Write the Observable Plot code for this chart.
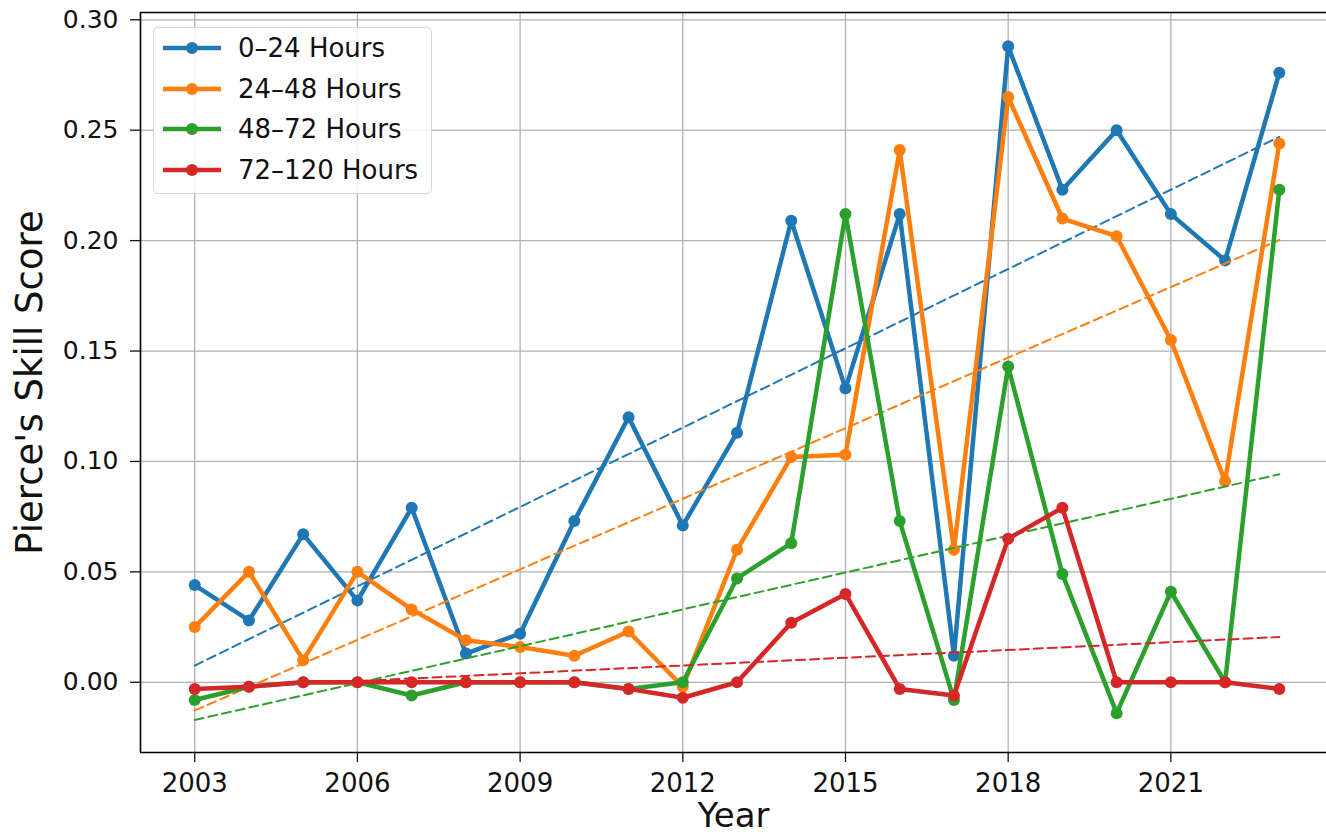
<!DOCTYPE html>
<html>
<head>
<meta charset="utf-8">
<script src="https://cdn.jsdelivr.net/npm/d3@7"></script>
<script src="https://cdn.jsdelivr.net/npm/@observablehq/plot@0.6"></script>
<style>
  html, body { margin: 0; padding: 0; background: white; }
  #wrap { position: relative; width: 1326px; height: 839px; overflow: hidden; font-family: "DejaVu Sans", sans-serif; }
  #legend { position: absolute; left: 153px; top: 27px; width: 279px; height: 167px; box-sizing: border-box;
            border: 1.3px solid #d6d6d6; border-radius: 5px; background: rgba(255,255,255,0.85); }
  .row { position: absolute; left: 0; height: 40px; display: flex; align-items: center; }
  .row span { font-size: 26px; color: #111; margin-left: 16px; white-space: nowrap; }
</style>
</head>
<body>
<div id="wrap"><div id="chart"></div><div id="legend"></div></div>
<script>
const years = [2003,2004,2005,2006,2007,2008,2009,2010,2011,2012,2013,2014,2015,2016,2017,2018,2019,2020,2021,2022,2023];
const seriesNames = ["0–24 Hours", "24–48 Hours", "48–72 Hours", "72–120 Hours"];
const colors = ["#1f77b4", "#ff7f0e", "#2ca02c", "#d62728"];
const h0_24   = [0.044,0.028,0.067,0.037,0.079,0.013,0.022,0.073,0.120,0.071,0.113,0.209,0.133,0.212,0.012,0.288,0.223,0.250,0.212,0.191,0.276];
const h24_48  = [0.025,0.050,0.010,0.050,0.033,0.019,0.016,0.012,0.023,-0.002,0.060,0.102,0.103,0.241,0.060,0.265,0.210,0.202,0.155,0.091,0.244];
const h48_72  = [-0.008,-0.002,0.000,0.000,-0.006,0.000,0.000,0.000,-0.003,0.000,0.047,0.063,0.212,0.073,-0.008,0.143,0.049,-0.014,0.041,0.000,0.223];
const h72_120 = [-0.003,-0.002,0.000,0.000,0.000,0.000,0.000,0.000,-0.003,-0.007,0.000,0.027,0.040,-0.003,-0.006,0.065,0.079,0.000,0.000,0.000,-0.003];
const xTicks = [2003,2006,2009,2012,2015,2018,2021];
const yTicks = [0,0.05,0.10,0.15,0.20,0.25,0.30];
const xLabel = "Year";
const yLabel = "Pierce's Skill Score";

const allSeries = [h0_24, h24_48, h48_72, h72_120];
const xDomain = [2002, 2023.87];
const yDomain = [-0.0318, 0.3033];

const marks = [
  Plot.gridX(xTicks, {stroke: "#b0b0b0", strokeOpacity: 1, strokeWidth: 1.3}),
  Plot.gridY(yTicks, {stroke: "#b0b0b0", strokeOpacity: 1, strokeWidth: 1.3}),
];
allSeries.forEach((vals, i) => {
  const rows = years.map((yr, j) => ({year: yr, value: vals[j]}));
  marks.push(Plot.line(rows, {x: "year", y: "value", stroke: colors[i], strokeWidth: 4.5, strokeLinejoin: "round"}));
  marks.push(Plot.dot(rows, {x: "year", y: "value", fill: colors[i], r: 6}));
  marks.push(Plot.linearRegressionY(rows, {x: "year", y: "value", stroke: colors[i], ci: 0, strokeWidth: 2, strokeDasharray: "9,5"}));
});
marks.push(
  Plot.ruleX([xDomain[0]], {stroke: "black", strokeWidth: 1.6}),
  Plot.ruleY(yDomain, {stroke: "black", strokeWidth: 1.6}),
  Plot.axisX(xTicks, {tickSize: 10, tickPadding: 11, fontSize: 26, tickFormat: d => String(d), label: null, strokeWidth: 1.3}),
  Plot.axisY(yTicks, {tickSize: 10, tickPadding: 12, fontSize: 25, tickFormat: d3.format(".2f"), label: null, strokeWidth: 1.3}),
  Plot.text([yLabel], {frameAnchor: "left", dx: -110, rotate: -90, textAnchor: "middle", text: d => d, fontSize: 37, fill: "#111"}),
  Plot.text([xLabel], {frameAnchor: "bottom", dy: 74, textAnchor: "middle", text: d => d, fontSize: 34, fill: "#111"})
);

const chart = Plot.plot({
  width: 1326,
  height: 839,
  marginLeft: 140,
  marginRight: 0,
  marginTop: 12,
  marginBottom: 87,
  x: {domain: xDomain},
  y: {domain: yDomain},
  style: {fontFamily: "DejaVu Sans", background: "white", color: "#111", overflow: "visible"},
  marks
});
document.getElementById("chart").appendChild(chart);

const legend = document.getElementById("legend");
seriesNames.forEach((name, i) => {
  const row = document.createElement("div");
  row.className = "row";
  row.style.top = (0 + i * 40.5) + "px";
  row.style.left = "8px";
  row.innerHTML = `<svg width="60" height="20"><line x1="1" y1="10" x2="59" y2="10" stroke="${colors[i]}" stroke-width="4.5"/><circle cx="30" cy="10" r="6" fill="${colors[i]}"/></svg><span>${name}</span>`;
  legend.appendChild(row);
});
</script>
</body>
</html>
